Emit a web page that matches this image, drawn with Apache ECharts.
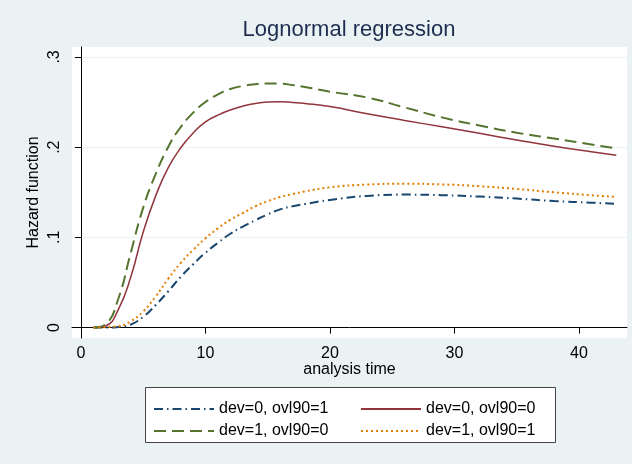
<!DOCTYPE html>
<html>
<head>
<meta charset="utf-8">
<script src="https://cdn.jsdelivr.net/npm/echarts@6/dist/echarts.min.js"></script>
<style>
html,body{margin:0;padding:0;background:#EAF2F3;}
#chart{width:632px;height:464px;}
</style>
</head>
<body>
<div id="chart"></div>
<script>
// Analysis time grid (x values)
const times = [1, 2, 3, 4, 5, 6, 7, 8, 9, 10, 11, 12, 13, 14, 15, 16, 17, 18, 20, 23, 26, 29, 32, 35, 38, 41, 43];

// Hazard function estimates per group
const dev0_ovl1 = [0, 0, 0.0008, 0.0035, 0.012, 0.025, 0.040, 0.056, 0.070, 0.083, 0.094, 0.104, 0.112, 0.119, 0.1255, 0.131, 0.1345, 0.137, 0.1415, 0.146, 0.1474, 0.1468, 0.1452, 0.143, 0.1403, 0.1385, 0.137];
const dev0_ovl0 = [0, 0.002, 0.020, 0.056, 0.106, 0.146, 0.177, 0.199, 0.2155, 0.228, 0.2355, 0.2412, 0.2455, 0.2485, 0.2500, 0.2503, 0.2496, 0.2485, 0.245, 0.237, 0.2296, 0.2226, 0.2153, 0.208, 0.201, 0.1948, 0.191];
const dev1_ovl0 = [0, 0.004, 0.032, 0.083, 0.133, 0.170, 0.200, 0.222, 0.238, 0.250, 0.2585, 0.2645, 0.2678, 0.2698, 0.2706, 0.2704, 0.2688, 0.2667, 0.2615, 0.255, 0.244, 0.233, 0.224, 0.216, 0.2095, 0.203, 0.1985];
const dev1_ovl1 = [0, 0.0005, 0.0015, 0.007, 0.018, 0.0345, 0.054, 0.0715, 0.086, 0.099, 0.110, 0.1195, 0.127, 0.1345, 0.140, 0.1448, 0.148, 0.151, 0.1555, 0.1585, 0.1595, 0.1587, 0.1567, 0.1537, 0.150, 0.1467, 0.1448];

const seriesNames = ['dev=0, ovl90=1', 'dev=0, ovl90=0', 'dev=1, ovl90=0', 'dev=1, ovl90=1'];
const xTicks = [0, 10, 20, 30, 40];
const yTicks = [0, 0.1, 0.2, 0.3];
const titleText = 'Lognormal regression';
const xTitle = 'analysis time';
const yTitle = 'Hazard function';

const pair = arr => times.map((t, i) => [t, arr[i]]);
const font = "'Liberation Sans', Arial, Helvetica, sans-serif";

const legendCommon = {
  orient: 'vertical', top: 401, padding: 0, itemWidth: 60, itemHeight: 16, itemGap: 6,
  itemStyle: { opacity: 0, borderWidth: 0 },
  textStyle: { fontSize: 16, color: '#000', lineHeight: 16, fontFamily: font }
};

const chart = echarts.init(document.getElementById('chart'));
chart.setOption({
  backgroundColor: '#EAF2F3',
  animation: false,
  textStyle: { fontFamily: font },
  title: {
    text: titleText,
    left: 349, top: 19, padding: 0, textAlign: 'center',
    textStyle: { fontSize: 22, fontWeight: 'normal', color: '#1e2d50', fontFamily: font }
  },
  grid: {
    left: 72, right: 5, top: 47, bottom: 126,
    show: true, backgroundColor: '#ffffff', borderWidth: 0
  },
  xAxis: {
    type: 'value', min: -0.72, max: 43.86,
    name: xTitle, nameLocation: 'middle', nameGap: 24, nameMoveOverlap: false,
    nameTextStyle: { fontSize: 16, color: '#000', fontFamily: font },
    axisLine: { show: true, lineStyle: { color: '#000', width: 1 } },
    axisTick: { show: true, length: 6, customValues: xTicks, lineStyle: { color: '#000' } },
    axisLabel: { customValues: xTicks, fontSize: 16, color: '#000', margin: 8, fontFamily: font },
    splitLine: { show: false }
  },
  yAxis: {
    type: 'value', min: -0.0115, max: 0.311,
    name: yTitle, nameLocation: 'middle', nameGap: 30, nameMoveOverlap: false,
    nameTextStyle: { fontSize: 16, color: '#000', fontFamily: font },
    axisLine: { show: true, lineStyle: { color: '#000', width: 1 } },
    axisTick: { show: true, length: 6, customValues: yTicks, lineStyle: { color: '#000' } },
    axisLabel: {
      customValues: yTicks, fontSize: 16, color: '#000', margin: 9, rotate: 90, fontFamily: font,
      formatter: v => (Math.abs(v) < 1e-9 ? '0' : String(Math.round(v * 10) / 10).replace(/^0/, ''))
    },
    splitLine: { show: true, lineStyle: { color: '#EAF2F3', width: 1 } }
  },
  legend: [
    Object.assign({}, legendCommon, { data: [seriesNames[0], seriesNames[2]], left: 153 }),
    Object.assign({}, legendCommon, { data: [seriesNames[1], seriesNames[3]], left: 360 })
  ],
  graphic: [{
    type: 'rect', left: 145, top: 387, z: -1,
    shape: { width: 410, height: 55 },
    style: { fill: '#ffffff', stroke: '#444', lineWidth: 1 }
  }],
  series: [
    { name: seriesNames[0], type: 'line', data: pair(dev0_ovl1), smooth: 0.5, symbol: 'none',
      lineStyle: { color: '#1a476f', width: 2, type: [9, 4, 1.5, 4] }, itemStyle: { color: '#1a476f' } },
    { name: seriesNames[1], type: 'line', data: pair(dev0_ovl0), smooth: 0.5, symbol: 'none',
      lineStyle: { color: '#90353b', width: 1.5, type: 'solid' }, itemStyle: { color: '#90353b' } },
    { name: seriesNames[2], type: 'line', data: pair(dev1_ovl0), smooth: 0.5, symbol: 'none',
      lineStyle: { color: '#55752f', width: 2, type: [12, 6] }, itemStyle: { color: '#55752f' } },
    { name: seriesNames[3], type: 'line', data: pair(dev1_ovl1), smooth: 0.5, symbol: 'none',
      lineStyle: { color: '#e37e00', width: 2, type: [2, 3] }, itemStyle: { color: '#e37e00' } }
  ]
});
</script>
</body>
</html>
